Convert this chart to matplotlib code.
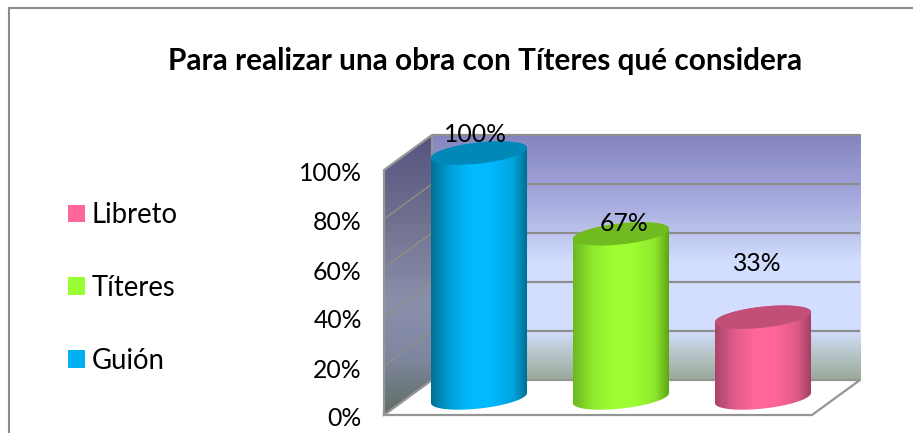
import numpy as np
import matplotlib
matplotlib.use("Agg")
import matplotlib.pyplot as plt
from matplotlib.colors import LinearSegmentedColormap as LSC
from matplotlib.patches import Patch, PathPatch, Polygon
from matplotlib.path import Path
from matplotlib.transforms import Affine2D

plt.rcParams['font.family'] = ['Lato', 'DejaVu Sans']

# Data
categories = ['Guión', 'Títeres', 'Libreto']
values = [100, 67, 33]
value_labels = ['100%', '67%', '33%']
tick_values = [0, 20, 40, 60, 80, 100]
tick_labels = ['0%', '20%', '40%', '60%', '80%', '100%']
title = 'Para realizar una obra con Títeres qué considera'

# Style
side_colors = [['#006f96', '#00a0d8', '#00b9ff', '#00b9ff', '#00a4dc', '#006a8e'],
               ['#6bb81f', '#8fe82c', '#9dff33', '#9dff33', '#8ce62c', '#5b9f14'],
               ['#a8466c', '#e05c8a', '#ff6699', '#ff6699', '#de5a88', '#9c4062']]
cap_colors = ['#0089b8', '#70bc20', '#c24f78']
legend_colors = ['#00b0f0', '#99ff33', '#ff6699']
label_offsets = [(-4, 18), (3, 10), (-6, 54)]

W, H, DPI = 913, 433, 100
fig = plt.figure(figsize=(W / DPI, H / DPI), dpi=DPI, facecolor='white')
ax = fig.add_axes([0, 0, 1, 1])
ax.axis('off')

# axis scales: category 0 at px 479, step 142 px; value 0 at px 398, 2.45 px per unit
PXX, PXY = 142.0, 2.45
X0, Y0 = 479.0, 398.0
xlim = ((0 - X0) / PXX, (W - X0) / PXX)
ylim = ((Y0 - H) / PXY, Y0 / PXY)


def px_to_pt(px, py):
    return (px - X0) / PXX, (Y0 - py) / PXY


# chart frame
fx0, fy0 = 9, 8
frame = Polygon([px_to_pt(fx0, H + 5), px_to_pt(fx0, fy0), px_to_pt(W + 5, fy0)], closed=False,
                fill=False, ec='#8c8c8c', lw=1.5, zorder=1, clip_on=True)
ax.add_patch(frame)

# plot box geometry relative to the value plane
FRONT_L, FRONT_R, BACK_L, BACK_R = 384, 812, 432, 860
FRONT_B, BACK_B = 415, 380
fx_l, fx_r = px_to_pt(FRONT_L, 0)[0], px_to_pt(FRONT_R, 0)[0]
bx_l, bx_r = px_to_pt(BACK_L, 0)[0], px_to_pt(BACK_R, 0)[0]
v_f = px_to_pt(0, FRONT_B)[1]   # value-plane offset of the front 0 line
v_b = px_to_pt(0, BACK_B)[1]    # value-plane offset of the back 0 line
vmax = max(tick_values)

# back wall gradient
wall = LSC.from_list('wall', [(0.0, '#8484bf'), (0.27, '#a6aade'), (0.40, '#bcc4ec'),
                              (0.52, '#d3deff'), (0.80, '#d3deff'), (0.88, '#bcc9d0'),
                              (1.0, '#9aa99a')])
grad = np.linspace(0, 1, 256).reshape(-1, 1)
ax.imshow(grad, cmap=wall, aspect='auto', extent=(bx_l, bx_r, v_b, v_b + vmax),
          origin='upper', zorder=2, interpolation='bilinear')

# side wall gradient clipped to a parallelogram
side = LSC.from_list('side', [(0.0, '#545480'), (0.3, '#70708f'), (0.6, '#8a90ac'),
                              (0.8, '#7f86a0'), (1.0, '#5f6e60')])
im = ax.imshow(grad, cmap=side, aspect='auto', extent=(fx_l, bx_l, v_f, v_b + vmax),
               origin='upper', zorder=2, interpolation='bilinear')
clip = Polygon([(fx_l, v_f), (fx_l, v_f + vmax), (bx_l, v_b + vmax), (bx_l, v_b)],
               transform=ax.transData, fc='none', ec='none')
ax.add_patch(clip)
im.set_clip_path(clip)

# gridlines on walls
grid_c = '#8e8e8e'
for t in tick_values[1:]:
    ax.plot([bx_l, bx_r], [v_b + t, v_b + t], color=grid_c, lw=1.6, zorder=3, solid_capstyle='butt')
    if t < vmax:
        ax.plot([fx_l, bx_l], [v_f + t, v_b + t], color='#8f8f85', lw=1.0, zorder=3)

# outline of walls and floor
ax.plot([fx_l, fx_l, bx_l, bx_l], [v_f, v_f + vmax, v_b + vmax, v_b], color='#959595', lw=1.6, zorder=4)
ax.plot([fx_l, fx_r, bx_r, bx_l, fx_l], [v_f, v_f, v_b, v_b, v_f], color='#959595', lw=1.6, zorder=4)

# cylinders
A, B, TH = 48.3, 10.5, np.radians(6.3)
T0 = np.arctan2(-B * np.sin(TH), A * np.cos(TH))


def ell(t):
    ex = A * np.cos(t) * np.cos(TH) - B * np.sin(t) * np.sin(TH)
    ey = A * np.cos(t) * np.sin(TH) + B * np.sin(t) * np.cos(TH)
    return ex / PXX, ey / PXY


for i, (v, cols, cap) in enumerate(zip(values, side_colors, cap_colors)):
    # silhouette: lower half of bottom ellipse + upper half of the top ellipse
    t_low = np.linspace(T0 + np.pi, T0 + 2 * np.pi, 60)
    t_up = np.linspace(T0, T0 + np.pi, 60)
    lx, ly = ell(t_low)
    ux, uy = ell(t_up)
    pts = np.vstack([np.c_[i + lx, ly], np.c_[i + ux, v + uy], [[i + lx[0], ly[0]]]])
    sil = PathPatch(Path(pts, closed=True), fc='none', ec='none', transform=ax.transData)
    ax.add_patch(sil)
    cmap = LSC.from_list(f'c{i}', list(zip([0, 0.2, 0.4, 0.62, 0.85, 1], cols)))
    w = A / PXX
    body = ax.imshow(np.linspace(0, 1, 256).reshape(1, -1), cmap=cmap, aspect='auto',
                     extent=(i - w, i + w, -10, v + 10), zorder=5, interpolation='bilinear')
    body.set_clip_path(sil)
    tt = np.linspace(0, 2 * np.pi, 120)
    cx, cy = ell(tt)
    ax.fill(i + cx, v + cy, color=cap, zorder=6, lw=0)
    dx, dy = label_offsets[i]
    ax.annotate(value_labels[i], (i, v), xytext=(dx, dy), textcoords='offset pixels',
                ha='center', va='center', fontsize=17.8, color='black', zorder=7)

ax.set_xlim(xlim)
ax.set_ylim(ylim)

# real value axis on the front plane
sec = fig.add_axes([FRONT_L / W, 1 - 417 / H, 1 / W, 245 / H], facecolor='none')
sec.set_xticks([])
sec.set_ylim(0, vmax)
sec.set_yticks(tick_values)
sec.set_yticklabels(tick_labels, fontsize=17.8)
sec.tick_params(axis='y', length=0, pad=16)
for s in sec.spines.values():
    s.set_visible(False)

# legend, reversed order
handles = [Patch(fc=c, ec='none', label=n) for c, n in zip(legend_colors, categories)][::-1]
fig.legend(handles=handles, loc='center left', bbox_to_anchor=(68 / W, 1 - 288 / H),
           frameon=False, fontsize=19.8, handlelength=0.62, handleheight=0.62,
           handletextpad=0.25, labelspacing=1.7, borderpad=0, borderaxespad=0)

fig.text(485.5 / W, 1 - 61 / H, title, ha='center', va='center', fontsize=21.4,
         fontweight='bold', color='black')
fig.savefig('out.png', dpi=DPI, facecolor='white')
